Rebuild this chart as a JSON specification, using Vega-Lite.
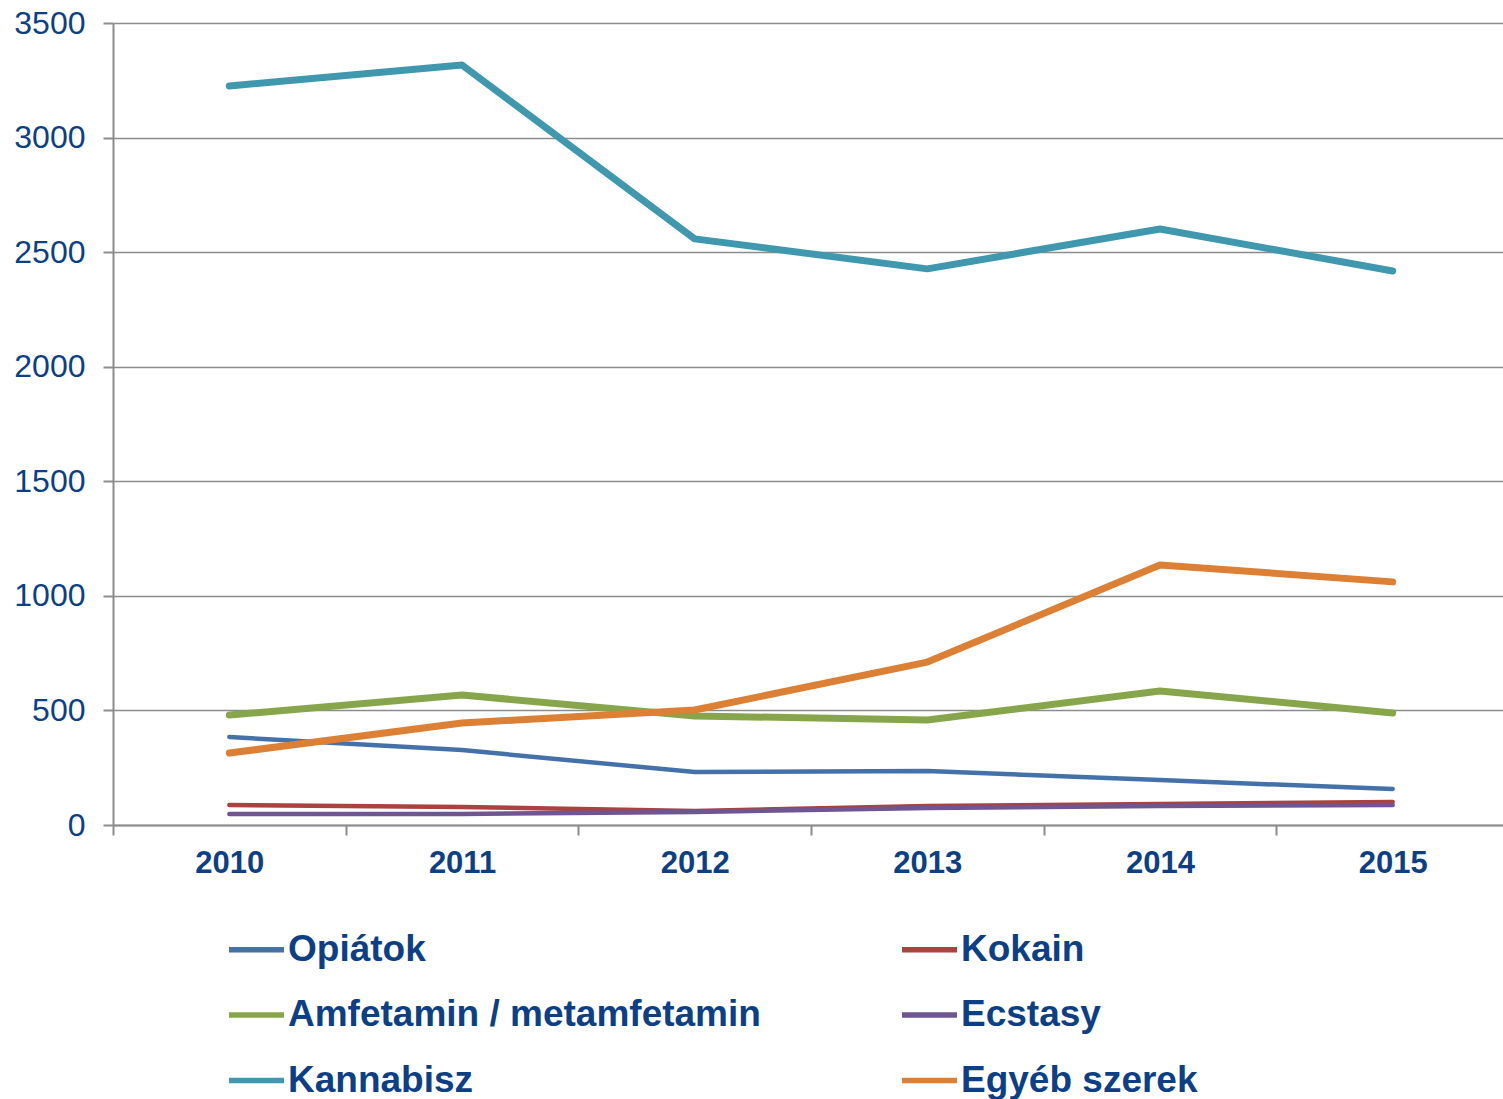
{
  "$schema": "https://vega.github.io/schema/vega-lite/v6.json",
  "width": 1390,
  "height": 802,
  "autosize": {"type": "none"},
  "padding": {"left": 113, "top": 23, "right": 0, "bottom": 274},
  "background": "white",
  "config": {
    "view": {"stroke": null},
    "font": "Liberation Sans"
  },
  "data": {
    "values": [
      {"year": "2010", "series": "Opiátok", "value": 384},
      {"year": "2011", "series": "Opiátok", "value": 327},
      {"year": "2012", "series": "Opiátok", "value": 231},
      {"year": "2013", "series": "Opiátok", "value": 236},
      {"year": "2014", "series": "Opiátok", "value": 196},
      {"year": "2015", "series": "Opiátok", "value": 157},
      {"year": "2010", "series": "Kokain", "value": 87},
      {"year": "2011", "series": "Kokain", "value": 79},
      {"year": "2012", "series": "Kokain", "value": 61},
      {"year": "2013", "series": "Kokain", "value": 83},
      {"year": "2014", "series": "Kokain", "value": 92},
      {"year": "2015", "series": "Kokain", "value": 100},
      {"year": "2010", "series": "Amfetamin / metamfetamin", "value": 480},
      {"year": "2011", "series": "Amfetamin / metamfetamin", "value": 567},
      {"year": "2012", "series": "Amfetamin / metamfetamin", "value": 476},
      {"year": "2013", "series": "Amfetamin / metamfetamin", "value": 458},
      {"year": "2014", "series": "Amfetamin / metamfetamin", "value": 585},
      {"year": "2015", "series": "Amfetamin / metamfetamin", "value": 489},
      {"year": "2010", "series": "Ecstasy", "value": 48},
      {"year": "2011", "series": "Ecstasy", "value": 48},
      {"year": "2012", "series": "Ecstasy", "value": 57},
      {"year": "2013", "series": "Ecstasy", "value": 74},
      {"year": "2014", "series": "Ecstasy", "value": 83},
      {"year": "2015", "series": "Ecstasy", "value": 87},
      {"year": "2010", "series": "Kannabisz", "value": 3225},
      {"year": "2011", "series": "Kannabisz", "value": 3317},
      {"year": "2012", "series": "Kannabisz", "value": 2558},
      {"year": "2013", "series": "Kannabisz", "value": 2427},
      {"year": "2014", "series": "Kannabisz", "value": 2601},
      {"year": "2015", "series": "Kannabisz", "value": 2418},
      {"year": "2010", "series": "Egyéb szerek", "value": 314},
      {"year": "2011", "series": "Egyéb szerek", "value": 445},
      {"year": "2012", "series": "Egyéb szerek", "value": 502},
      {"year": "2013", "series": "Egyéb szerek", "value": 711},
      {"year": "2014", "series": "Egyéb szerek", "value": 1135},
      {"year": "2015", "series": "Egyéb szerek", "value": 1061}
    ]
  },
  "mark": {"type": "line", "strokeCap": "round", "strokeJoin": "round"},
  "encoding": {
    "x": {
      "field": "year",
      "type": "ordinal",
      "scale": {"type": "band", "range": [0, 1396], "paddingInner": 0, "paddingOuter": 0},
      "axis": {
        "title": null,
        "labelAngle": 0,
        "tickBand": "extent",
        "grid": false,
        "domainColor": "#8c8c8c",
        "domainWidth": 2,
        "tickColor": "#8c8c8c",
        "tickWidth": 2,
        "tickSize": 10,
        "labelFont": "Liberation Sans",
        "labelFontSize": 31,
        "labelFontWeight": "bold",
        "labelColor": "#0D3F86",
        "labelPadding": 13
      }
    },
    "y": {
      "field": "value",
      "type": "quantitative",
      "scale": {"domain": [0, 3500], "nice": false},
      "axis": {
        "title": null,
        "values": [0, 500, 1000, 1500, 2000, 2500, 3000, 3500],
        "format": "d",
        "grid": true,
        "gridColor": "#8c8c8c",
        "gridWidth": 1.5,
        "domainColor": "#8c8c8c",
        "domainWidth": 2,
        "tickColor": "#8c8c8c",
        "tickWidth": 2,
        "tickSize": 10,
        "labelFont": "Liberation Sans",
        "labelFontSize": 32,
        "labelColor": "#0D3F86",
        "labelPadding": 18
      }
    },
    "color": {
      "field": "series",
      "type": "nominal",
      "scale": {
        "domain": ["Opiátok", "Amfetamin / metamfetamin", "Kannabisz", "Kokain", "Ecstasy", "Egyéb szerek"],
        "range": ["#4571A9", "#87A64B", "#4098AF", "#AA423F", "#6F5592", "#DC8036"]
      },
      "legend": {
        "title": null,
        "orient": "none",
        "legendX": 113,
        "legendY": 896,
        "columns": 2,
        "columnPadding": 130,
        "rowPadding": 16.5,
        "symbolType": "stroke",
        "symbolSize": 3025,
        "symbolStrokeWidth": 5.5,
        "labelOffset": 1,
        "labelFont": "Liberation Sans",
        "labelFontSize": 37,
        "labelFontWeight": "bold",
        "labelColor": "#0D3F86",
        "labelLimit": 700
      }
    },
    "strokeWidth": {
      "condition": {"test": "indexof(['Amfetamin / metamfetamin','Kannabisz','Egyéb szerek'], datum.series) >= 0", "value": 7},
      "value": 4.5
    }
  }
}
